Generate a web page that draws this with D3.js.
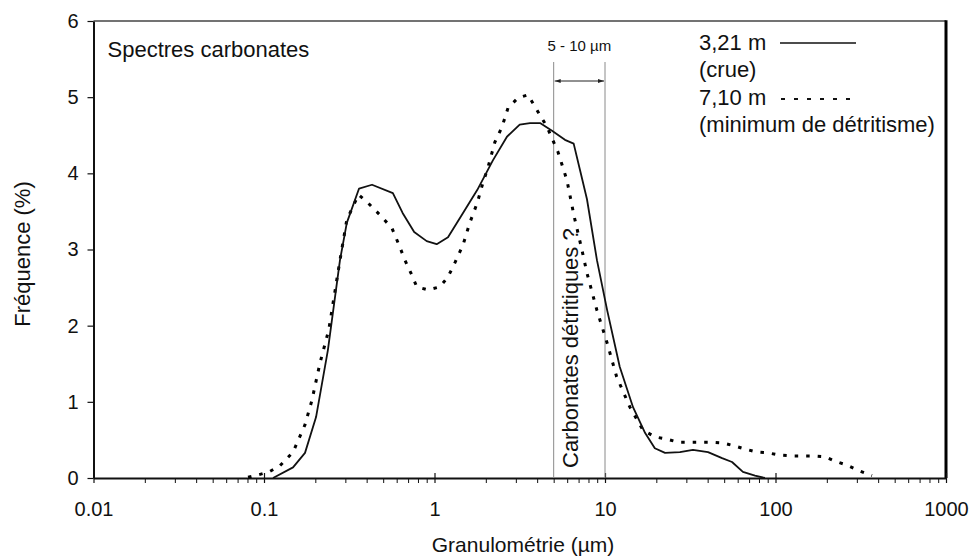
<!DOCTYPE html>
<html>
<head>
<meta charset="utf-8">
<script src="https://cdn.jsdelivr.net/npm/d3@7"></script>
<style>
  body { margin: 0; background: #fff; }
  svg text { font-family: "Liberation Sans", Arial, sans-serif; fill: #111; }
</style>
</head>
<body>
<div id="chart"></div>
<script>
var svgWidth = 971;
var svgHeight = 560;

// plot frame in page pixels
var margin = { top: 21, right: 25, bottom: 82, left: 93.5 };
var width = svgWidth - margin.left - margin.right;
var height = svgHeight - margin.top - margin.bottom;

// sample 3,21 m (crue) - solid line
var crueSize = [0.113, 0.148, 0.174, 0.202, 0.237, 0.279, 0.306, 0.361, 0.43, 0.57, 0.65, 0.76, 0.90, 1.03, 1.20,
    1.47, 1.78, 2.20, 2.66, 3.16, 3.63, 4.16, 4.89, 5.82, 6.55, 7.14, 7.84, 8.97, 10.3, 12.2, 14.6, 17.2, 19.6,
    22.5, 27.5, 32.8, 40.2, 48.6, 55.6, 64.4, 75.8, 86.7];
var crueFreq = [0, 0.14, 0.33, 0.80, 1.68, 2.86, 3.35, 3.80, 3.85, 3.74, 3.48, 3.23, 3.11, 3.07, 3.16,
    3.48, 3.78, 4.17, 4.48, 4.64, 4.66, 4.66, 4.56, 4.44, 4.39, 4.04, 3.66, 2.86, 2.20, 1.46, 0.93, 0.59, 0.39,
    0.33, 0.34, 0.37, 0.34, 0.26, 0.21, 0.08, 0.03, 0];

// sample 7,10 m (minimum de détritisme) - dotted line
var minSize = [0.0806, 0.092, 0.107, 0.124, 0.148, 0.174, 0.191, 0.213, 0.24, 0.279, 0.306, 0.358, 0.408, 0.48,
    0.563, 0.619, 0.671, 0.738, 0.787, 0.917, 1.076, 1.20, 1.32, 1.47, 1.61, 1.78, 1.92, 2.06, 2.26, 2.49, 2.70,
    3.09, 3.53, 4.57, 5.30, 5.98, 6.6, 7.33, 7.84, 8.97, 10.3, 11.7, 14.0, 16.7, 19.6, 23.1, 26.8, 31.5, 36.0,
    42.4, 49.2, 57.8, 66.2, 77.8, 90.3, 106, 125, 145, 166, 195, 223, 262, 305, 368];
var minFreq = [0.01, 0.04, 0.08, 0.16, 0.34, 0.70, 1.02, 1.51, 1.95, 2.86, 3.39, 3.72, 3.61, 3.45,
    3.28, 3.06, 2.86, 2.66, 2.51, 2.47, 2.51, 2.64, 2.83, 3.06, 3.35, 3.61, 3.87, 4.08, 4.41, 4.61, 4.86,
    4.99, 5.03, 4.61, 4.28, 3.91, 3.43, 2.99, 2.69, 2.20, 1.77, 1.33, 0.93, 0.63, 0.54, 0.51, 0.47, 0.47, 0.47,
    0.47, 0.46, 0.42, 0.38, 0.34, 0.33, 0.30, 0.29, 0.29, 0.29, 0.28, 0.22, 0.17, 0.10, 0.03];

var xTicks = [0.01, 0.1, 1, 10, 100, 1000];
var yTicks = [0, 1, 2, 3, 4, 5, 6];
var bandRange = [5, 10];

var svg = d3.select("#chart")
    .append("svg")
    .attr("width", svgWidth)
    .attr("height", svgHeight);

var chartGroup = svg.append("g")
    .attr("transform", `translate(${margin.left}, ${margin.top})`);

var xScale = d3.scaleLog().domain([0.01, 1000]).range([0, width]);
var yScale = d3.scaleLinear().domain([0, 6]).range([height, 0]);

// frame: top thin, right thick
chartGroup.append("line")
    .attr("x1", 0).attr("x2", width).attr("y1", 0).attr("y2", 0)
    .attr("stroke", "#444").attr("stroke-width", 1.5);
chartGroup.append("line")
    .attr("x1", width).attr("x2", width).attr("y1", -0.75).attr("y2", height)
    .attr("stroke", "#000").attr("stroke-width", 3);

// minor ticks on x (2..9 in each decade)
var minorTicks = [];
xTicks.slice(0, -1).forEach(function(d) {
    for (var k = 2; k <= 9; k++) minorTicks.push(d * k);
});
chartGroup.append("g")
    .attr("transform", `translate(0, ${height})`)
    .call(d3.axisBottom(xScale).tickValues(minorTicks).tickSize(5).tickFormat(""))
    .call(g => g.select(".domain").remove())
    .selectAll("line").attr("stroke", "#111").attr("stroke-width", 1);

// major x axis
var xAxis = chartGroup.append("g")
    .attr("transform", `translate(0, ${height})`)
    .call(d3.axisBottom(xScale).tickValues(xTicks).tickSize(5).tickSizeOuter(0).tickPadding(19)
        .tickFormat(d => String(d)));
xAxis.select(".domain").attr("stroke", "#111").attr("stroke-width", 2);
xAxis.selectAll(".tick line").attr("y1", -5).attr("stroke", "#111").attr("stroke-width", 1.2);
xAxis.selectAll(".tick text").attr("font-size", "20px").attr("font-family", "Liberation Sans, Arial, sans-serif")
    .attr("fill", "#111");

// y axis
var yAxis = chartGroup.append("g")
    .call(d3.axisLeft(yScale).tickValues(yTicks).tickSize(6).tickSizeOuter(0).tickPadding(9)
        .tickFormat(d => String(d)));
yAxis.select(".domain").attr("stroke", "#111").attr("stroke-width", 2);
yAxis.selectAll(".tick line").attr("stroke", "#111").attr("stroke-width", 1.2);
yAxis.selectAll(".tick text").attr("font-size", "20px").attr("font-family", "Liberation Sans, Arial, sans-serif")
    .attr("fill", "#111");

// 5 - 10 µm band
bandRange.forEach(function(v) {
    chartGroup.append("line")
        .attr("x1", xScale(v)).attr("x2", xScale(v))
        .attr("y1", 41).attr("y2", height)
        .attr("stroke", "#8a8a8a").attr("stroke-width", 1);
});

svg.append("defs").append("marker")
    .attr("id", "arrow")
    .attr("viewBox", "0 0 10 10")
    .attr("refX", 10).attr("refY", 5)
    .attr("markerWidth", 6).attr("markerHeight", 6)
    .attr("orient", "auto-start-reverse")
    .append("path")
    .attr("d", "M0,1.5 L10,5 L0,8.5 z")
    .attr("fill", "#222");

chartGroup.append("line")
    .attr("x1", xScale(bandRange[0]) + 1).attr("x2", xScale(bandRange[1]) - 1)
    .attr("y1", 60).attr("y2", 60)
    .attr("stroke", "#222").attr("stroke-width", 1)
    .attr("marker-start", "url(#arrow)")
    .attr("marker-end", "url(#arrow)");

chartGroup.append("text")
    .attr("x", (xScale(bandRange[0]) + xScale(bandRange[1])) / 2)
    .attr("y", 30)
    .attr("text-anchor", "middle")
    .attr("font-size", "15px")
    .text("5 - 10 µm");

chartGroup.append("text")
    .attr("transform", `translate(${xScale(bandRange[0]) + 24}, ${height - 10}) rotate(-90)`)
    .attr("font-size", "22px")
    .text("Carbonates détritiques ?");

// curves
var line = d3.line()
    .x(d => xScale(d[0]))
    .y(d => yScale(d[1]));

var crueData = crueSize.map((s, i) => [s, crueFreq[i]]);
var minData = minSize.map((s, i) => [s, minFreq[i]]);

chartGroup.append("path")
    .datum(minData)
    .attr("d", line)
    .attr("fill", "none")
    .attr("stroke", "#000")
    .attr("stroke-width", 3)
    .attr("stroke-dasharray", "3.5,8");

chartGroup.append("path")
    .datum(crueData)
    .attr("d", line)
    .attr("fill", "none")
    .attr("stroke", "#111")
    .attr("stroke-width", 1.8)
    .attr("stroke-linejoin", "round");

// title in plot
chartGroup.append("text")
    .attr("x", 14)
    .attr("y", 36)
    .attr("font-size", "22px")
    .text("Spectres carbonates");

// legend
var legend = svg.append("g");
legend.append("text").attr("x", 699).attr("y", 50).attr("font-size", "22px").text("3,21 m");
legend.append("line")
    .attr("x1", 780).attr("x2", 856).attr("y1", 43).attr("y2", 43)
    .attr("stroke", "#111").attr("stroke-width", 1.5);
legend.append("text").attr("x", 699).attr("y", 77).attr("font-size", "22px").text("(crue)");
legend.append("text").attr("x", 699).attr("y", 105).attr("font-size", "22px").text("7,10 m");
legend.append("line")
    .attr("x1", 781).attr("x2", 858).attr("y1", 99).attr("y2", 99)
    .attr("stroke", "#111").attr("stroke-width", 2)
    .attr("stroke-dasharray", "4,9");
legend.append("text").attr("x", 699).attr("y", 132).attr("font-size", "22px").text("(minimum de détritisme)");

// axis titles
svg.append("text")
    .attr("x", 523)
    .attr("y", 552)
    .attr("text-anchor", "middle")
    .attr("font-size", "21px")
    .text("Granulométrie (µm)");

svg.append("text")
    .attr("transform", "translate(30, 254) rotate(-90)")
    .attr("text-anchor", "middle")
    .attr("font-size", "22px")
    .text("Fréquence (%)");
</script>
</body>
</html>
